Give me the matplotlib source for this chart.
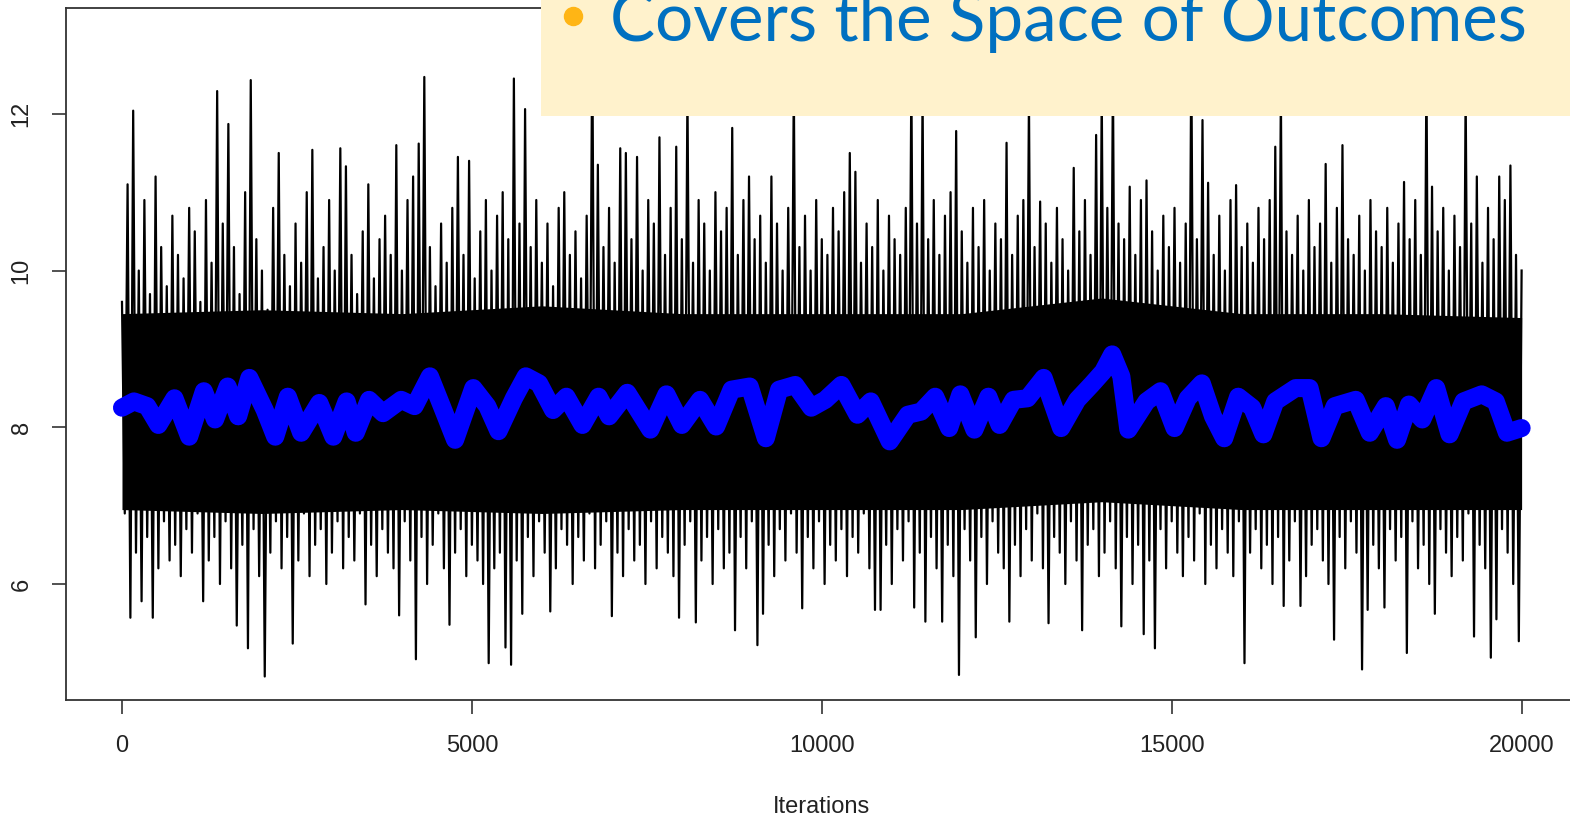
import numpy as np
import matplotlib.pyplot as plt
from matplotlib.lines import Line2D
from matplotlib.patches import Rectangle

# upper tips of the trace, one every 80 iterations (0 .. 20000)
trace_hi = [
    9.6, 11.1, 12.04, 10.0, 10.9, 9.7, 11.2, 10.3, 9.8, 10.7,
    10.2, 9.9, 10.8, 10.5, 9.6, 10.9, 10.1, 12.29, 10.6, 11.87,
    10.3, 9.7, 11.0, 12.43, 10.4, 10.0, 9.5, 10.8, 11.5, 10.2,
    9.8, 10.6, 10.1, 11.0, 11.54, 9.9, 10.3, 10.9, 10.0, 11.56,
    11.33, 10.2, 9.7, 10.5, 11.1, 9.9, 10.4, 10.7, 10.2, 11.6,
    10.0, 10.9, 11.2, 11.62, 12.47, 10.3, 9.8, 10.6, 10.1, 10.8,
    11.45, 10.2, 11.4, 9.9, 10.5, 10.9, 10.0, 10.7, 11.0, 10.4,
    12.45, 10.6, 12.06, 10.3, 10.9, 10.1, 10.6, 9.8, 10.8, 11.0,
    10.2, 10.5, 9.9, 10.7, 13.0, 11.35, 10.3, 10.8, 10.1, 11.56,
    11.5, 10.4, 11.45, 10.0, 10.9, 10.6, 11.7, 10.2, 10.8, 11.58,
    10.4, 12.3, 10.1, 10.9, 10.6, 10.0, 11.0, 10.5, 10.8, 11.82,
    10.2, 10.9, 11.2, 10.4, 10.7, 10.1, 11.2, 10.6, 10.0, 10.8,
    12.4, 10.3, 10.7, 10.0, 10.9, 10.4, 10.2, 10.8, 10.5, 11.0,
    11.5, 11.26, 10.1, 10.6, 10.3, 10.9, 10.0, 10.7, 10.4, 10.2,
    10.8, 12.5, 10.6, 12.3, 10.4, 10.9, 10.2, 10.7, 11.0, 11.78,
    10.5, 10.1, 10.8, 10.3, 10.9, 10.0, 10.6, 10.4, 11.63, 10.2,
    10.7, 10.9, 12.2, 10.3, 10.88, 10.6, 10.1, 10.8, 10.4, 10.0,
    11.31, 10.5, 10.9, 10.2, 11.73, 12.3, 10.8, 12.5, 10.6, 10.4,
    11.07, 10.2, 10.9, 11.15, 10.5, 10.0, 10.7, 10.3, 10.8, 10.1,
    10.6, 12.8, 10.4, 11.92, 11.12, 10.2, 10.7, 10.0, 10.9, 11.09,
    10.3, 10.6, 10.1, 10.8, 10.4, 10.9, 11.58, 12.3, 10.5, 10.2,
    10.7, 10.0, 10.9, 10.3, 10.6, 11.36, 10.1, 10.8, 11.6, 10.4,
    10.2, 10.7, 10.0, 10.9, 10.5, 10.3, 10.8, 10.1, 10.6, 11.13,
    10.4, 10.9, 10.2, 12.6, 11.07, 10.5, 10.8, 10.0, 10.7, 10.3,
    12.3, 10.6, 11.2, 10.1, 10.8, 10.4, 11.2, 10.9, 11.34, 10.2,
    10.0,
]

# lower tips of the trace, one every 80 iterations (40 .. 19960)
trace_lo = [
    6.9, 5.57, 6.4, 5.78, 6.6, 5.57, 6.2, 6.8, 6.3, 6.5,
    6.1, 6.7, 6.4, 6.9, 5.78, 6.3, 6.6, 6.0, 6.8, 6.2,
    5.47, 6.5, 5.18, 6.7, 6.1, 4.82, 6.4, 6.8, 6.2, 6.6,
    5.24, 6.3, 6.9, 6.1, 6.5, 6.7, 6.0, 6.4, 6.8, 6.2,
    6.6, 6.3, 6.9, 5.74, 6.5, 6.1, 6.7, 6.4, 6.2, 5.6,
    6.8, 6.3, 5.04, 6.6, 6.0, 6.5, 6.9, 6.2, 5.48, 6.4,
    6.7, 6.1, 6.5, 6.3, 6.0, 4.99, 6.2, 6.4, 5.19, 4.97,
    6.3, 5.62, 6.6, 6.1, 6.8, 6.4, 5.65, 6.2, 6.7, 6.5,
    6.0, 6.6, 6.3, 6.9, 6.2, 6.5, 6.8, 5.59, 6.4, 6.1,
    6.7, 6.3, 6.5, 6.0, 6.8, 6.2, 6.6, 6.4, 6.1, 5.57,
    6.5, 6.8, 5.51, 6.3, 6.6, 6.0, 6.7, 6.2, 6.4, 5.41,
    6.6, 6.2, 6.8, 5.22, 5.62, 6.5, 6.1, 6.7, 6.3, 6.9,
    6.4, 5.69, 6.6, 6.2, 6.8, 6.0, 6.5, 6.3, 6.7, 6.1,
    6.6, 6.4, 6.9, 6.2, 5.67, 5.67, 6.5, 6.0, 6.7, 6.3,
    6.8, 5.70, 6.4, 5.52, 6.6, 6.2, 5.52, 6.5, 6.1, 4.84,
    6.7, 6.3, 5.32, 6.6, 6.0, 6.8, 6.4, 6.2, 5.52, 6.5,
    6.1, 6.7, 6.3, 6.9, 6.2, 5.5, 6.6, 6.4, 6.0, 6.8,
    6.3, 5.41, 6.5, 6.7, 6.1, 6.4, 6.8, 6.2, 5.46, 6.6,
    6.0, 6.5, 5.36, 6.3, 5.18, 6.7, 6.2, 6.8, 6.4, 6.1,
    6.6, 6.3, 6.9, 6.0, 6.5, 6.2, 6.7, 6.4, 6.1, 6.8,
    4.99, 6.4, 6.7, 6.2, 6.5, 6.0, 6.6, 5.72, 6.3, 6.8,
    5.72, 6.1, 6.5, 6.7, 6.3, 6.0, 5.29, 6.6, 6.2, 6.8,
    6.4, 4.91, 5.67, 6.5, 6.2, 5.7, 6.7, 6.3, 6.6, 5.12,
    6.8, 6.2, 6.5, 6.0, 5.62, 6.7, 6.4, 6.1, 6.6, 6.3,
    6.9, 5.33, 6.5, 6.2, 5.06, 5.55, 6.7, 6.4, 6.0, 5.27,
]

# dense core of the trace
core_x = [0, 2000, 4000, 6000, 8000, 10000, 12000, 14000, 16000, 18000, 20000]
core_lo = [6.95, 6.9, 6.95, 6.9, 6.95, 6.95, 6.95, 7.05, 6.95, 6.95, 6.95]
core_hi = [9.45, 9.5, 9.45, 9.55, 9.45, 9.45, 9.45, 9.65, 9.45, 9.45, 9.4]

# running mean (blue)
mean_x = [0, 170, 360, 520, 750, 960, 1170, 1330, 1510, 1660, 1820, 2040, 2190,
          2370, 2560, 2820, 3020, 3210, 3340, 3530, 3730, 3990, 4180, 4400, 4570,
          4760, 5020, 5220, 5380, 5600, 5770, 5960, 6160, 6350, 6580, 6810, 6960,
          7220, 7550, 7780, 8000, 8260, 8490, 8710, 8970, 9200, 9390, 9620, 9850,
          10050, 10280, 10510, 10700, 10970, 11230, 11420, 11620, 11820, 11980,
          12180, 12380, 12540, 12740, 12940, 13170, 13420, 13650, 13850, 14020,
          14150, 14280, 14380, 14640, 14840, 15040, 15230, 15430, 15590, 15750,
          15950, 16150, 16310, 16480, 16770, 16970, 17140, 17330, 17630, 17830,
          18060, 18220, 18390, 18580, 18780, 18970, 19170, 19430, 19630, 19790,
          20000]
mean_y = [8.25, 8.33, 8.27, 8.03, 8.37, 7.88, 8.46, 8.10, 8.52, 8.14, 8.63, 8.22,
          7.88, 8.39, 7.93, 8.31, 7.88, 8.33, 7.93, 8.35, 8.18, 8.35, 8.27, 8.65,
          8.27, 7.84, 8.50, 8.27, 7.95, 8.37, 8.65, 8.56, 8.22, 8.39, 8.03, 8.39,
          8.14, 8.44, 7.97, 8.42, 8.03, 8.35, 8.01, 8.48, 8.52, 7.86, 8.48, 8.54,
          8.25, 8.35, 8.54, 8.16, 8.33, 7.82, 8.16, 8.20, 8.39, 7.99, 8.42, 7.97,
          8.39, 8.03, 8.35, 8.37, 8.63, 7.99, 8.35, 8.54, 8.71, 8.93, 8.65, 7.97,
          8.33, 8.46, 7.99, 8.37, 8.56, 8.14, 7.86, 8.39, 8.25, 7.91, 8.33, 8.50,
          8.50, 7.86, 8.27, 8.35, 7.93, 8.27, 7.84, 8.29, 8.10, 8.50, 7.91, 8.33,
          8.42, 8.33, 7.93, 7.99]

x_ticks = [0, 5000, 10000, 15000, 20000]
y_ticks = [6, 8, 10, 12]

trace_x = np.arange(0, 20001, 40)
trace_y = np.empty(len(trace_x))
trace_y[0::2] = trace_hi
trace_y[1::2] = trace_lo

plt.rcParams['font.family'] = ['Liberation Sans', 'DejaVu Sans']

fig = plt.figure(figsize=(15.7, 8.17), dpi=100)
ax = fig.add_axes([66 / 1570, 117 / 817, 1511.6 / 1570, 692 / 817])

ax.fill_between(core_x, core_lo, core_hi, color='black', lw=0)
ax.plot(trace_x, trace_y, color='black', lw=1.6)
ax.plot(mean_x, mean_y, color='#0000ff', lw=13, solid_joinstyle='round',
        solid_capstyle='round')

ax.set_xlim(-800, 20800)
ax.set_ylim(4.52, 13.35)
ax.set_xticks(x_ticks)
ax.set_yticks(y_ticks)
ax.tick_params(axis='both', length=10, width=1.2, color='#333333',
               labelsize=17, labelcolor='#222222')
ax.tick_params(axis='x', pad=15)
ax.tick_params(axis='y', pad=14, labelrotation=90)
for lab in ax.get_yticklabels():
    lab.set_va('center')
ax.set_xlabel('Iterations', fontsize=17, color='#222222', labelpad=28)
for side in ['left', 'bottom', 'top']:
    ax.spines[side].set_color('#333333')
    ax.spines[side].set_linewidth(1.3)
ax.spines['right'].set_visible(False)

# slide overlay box
fig.patches.append(Rectangle((541 / 1570, 1 - 116 / 817), 1029 / 1570, 116 / 817,
                             transform=fig.transFigure, facecolor='#fff2cc',
                             edgecolor='none', zorder=5))
fig.add_artist(Line2D([573 / 1570], [1 - 16 / 817], marker='o', markersize=13,
                      color='#ffb515', transform=fig.transFigure, zorder=6))
fig.text(610 / 1570, 1 - 41 / 817, 'Covers the Space of Outcomes', fontsize=48.5,
         color='#0070c0', family=['Lato', 'DejaVu Sans'], va='baseline',
         ha='left', zorder=6)

fig.savefig('out.png', dpi=100)
